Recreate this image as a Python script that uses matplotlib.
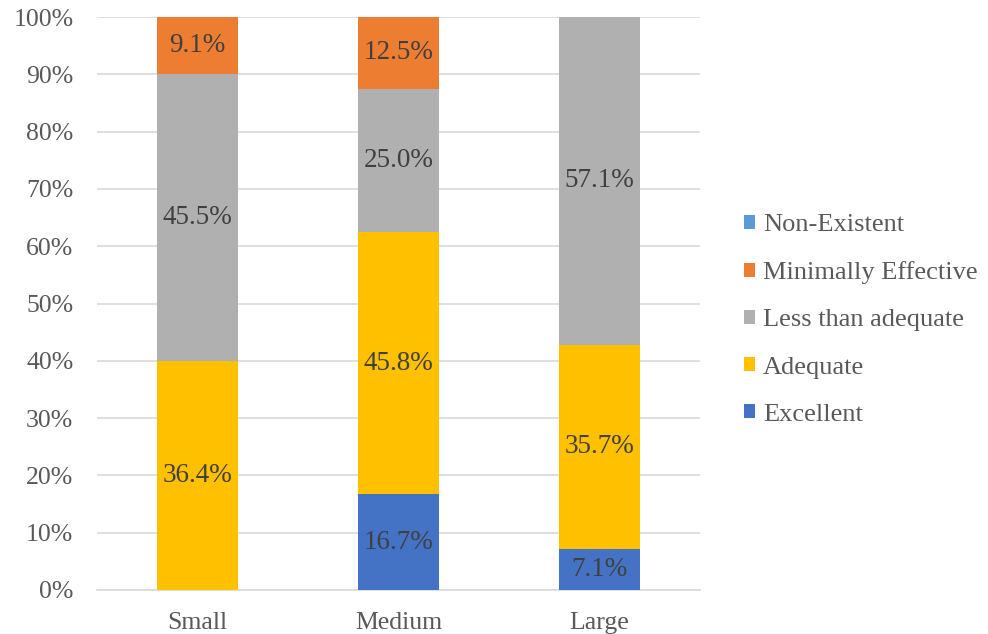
import matplotlib
matplotlib.use("Agg")
import matplotlib.pyplot as plt
import numpy as np
from matplotlib.patches import Patch

plt.rcParams['font.family'] = ['Liberation Serif', 'DejaVu Serif']

categories = ["Small", "Medium", "Large"]
# series values (percent of respondents); stacked as 100% columns
series_names = ["Excellent", "Adequate", "Less than adequate", "Minimally Effective", "Non-Existent"]
excellent = [0.0, 16.7, 7.1]
adequate = [36.4, 45.8, 35.7]
less_than_adequate = [45.5, 25.0, 57.1]
minimally_effective = [9.1, 12.5, 0.0]
non_existent = [0.0, 0.0, 0.0]
yticks = [0, 10, 20, 30, 40, 50, 60, 70, 80, 90, 100]

colors = ["#4472C4", "#FFC000", "#B0B0B0", "#ED7D31", "#5B9BD5"]
data = np.array([excellent, adequate, less_than_adequate, minimally_effective, non_existent])
totals = data.sum(axis=0)
shares = data / totals * 100

fig = plt.figure(figsize=(9.88, 6.34), dpi=100)
ax = fig.add_axes([97/988, 1 - 590/634, (700-97)/988, (590-17)/634])

x = np.arange(len(categories))
bottom = np.zeros(len(categories))
for i, name in enumerate(series_names):
    ax.bar(x, shares[i], bottom=bottom, width=0.4, color=colors[i], label=name, zorder=3)
    for j in range(len(categories)):
        if data[i, j] > 0:
            ax.text(x[j], bottom[j] + shares[i][j] / 2, f"{data[i, j]:.1f}%",
                    ha="center", va="center", fontsize=19.5, color="#404040", zorder=4)
    bottom += shares[i]

ax.set_xlim(-0.5, len(categories) - 0.5)
ax.set_ylim(0, 100)
ax.set_yticks(yticks)
ax.set_yticklabels([f"{v}%" for v in yticks])
ax.set_xticks(x)
ax.set_xticklabels(categories)
ax.tick_params(axis="both", length=0, labelsize=18.5, colors="#595959")
ax.tick_params(axis="y", pad=17)
ax.tick_params(axis="x", pad=16)
ax.yaxis.grid(True, color="#D9D9D9", linewidth=1.2, zorder=0)
for s in ["top", "right", "left"]:
    ax.spines[s].set_visible(False)
ax.spines["bottom"].set_color("#D9D9D9")
ax.spines["bottom"].set_linewidth(1.2)

handles = [Patch(facecolor=colors[i], label=series_names[i]) for i in range(len(series_names))][::-1]
fig.legend(handles=handles, loc="center left", bbox_to_anchor=(744/988, 1 - 320/634),
           frameon=False, fontsize=19, labelcolor="#595959", borderpad=0, borderaxespad=0,
           handlelength=0.42, handleheight=0.42, handletextpad=0.3, labelspacing=0.95)

fig.savefig("out.png", dpi=100)
